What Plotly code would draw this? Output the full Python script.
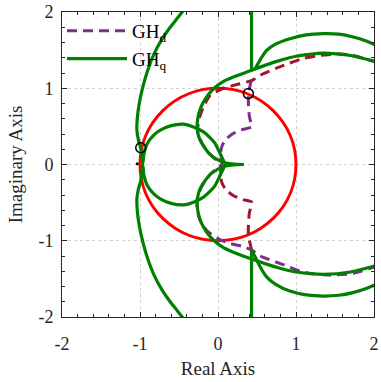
import plotly.graph_objects as go

# ---------------- data ----------------
# GH_q (green) pieces
gq_vert_up_x = [0.43, 0.43]
gq_vert_up_y = [2.05, 1.24]
gq_arc1_up_x = [0.43, 0.474, 0.55, 0.624, 0.75, 0.923, 1.13, 1.35, 1.55, 1.735, 1.9, 2.05]
gq_arc1_up_y = [1.24, 1.257, 1.39, 1.497, 1.585, 1.65, 1.70, 1.717, 1.71, 1.673, 1.62, 1.555]
gq_arc2_up_x = [2.05, 1.7, 1.35, 1.0, 0.795, 0.6, 0.432, 0.196, 0.07, -0.06, -0.15, -0.22, -0.26, -0.265, -0.23, -0.17, -0.1, 0.0, 0.1, 0.2, 0.33]
gq_arc2_up_y = [1.34, 1.43, 1.46, 1.42, 1.366, 1.3, 1.235, 1.148, 1.09, 0.99, 0.88, 0.75, 0.6, 0.45, 0.32, 0.22, 0.13, 0.06, 0.02, 0.005, 0.0]
gq_left_up_x = [-0.42, -0.52, -0.62, -0.72, -0.82, -0.90, -0.96, -1.01, -1.035, -1.04, -1.02, -0.99, -0.975, -0.965,
                -0.95, -0.91, -0.83, -0.74, -0.6, -0.44, -0.33, -0.19, -0.1, -0.04, 0.01, 0.047, 0.08, 0.1]
gq_left_up_y = [2.05, 1.92, 1.79, 1.64, 1.45, 1.24, 1.03, 0.8, 0.6, 0.45, 0.32, 0.21, 0.1, 0.0,
                0.14, 0.27, 0.38, 0.45, 0.51, 0.53, 0.5, 0.43, 0.35, 0.28, 0.18, 0.1, 0.03, 0.0]

gq_vert_lo_x = [0.43, 0.43]
gq_vert_lo_y = [-2.05, -1.12]
gq_arc1_lo_x = [0.43, 0.47, 0.54, 0.62, 0.75, 0.92, 1.13, 1.35, 1.55, 1.73, 1.9, 2.05]
gq_arc1_lo_y = [-1.12, -1.2, -1.34, -1.47, -1.58, -1.66, -1.71, -1.725, -1.715, -1.68, -1.625, -1.56]
gq_arc2_lo_x = [2.05, 1.7, 1.35, 1.0, 0.795, 0.6, 0.432, 0.196, 0.07, -0.06, -0.15, -0.22, -0.26, -0.265, -0.23, -0.17, -0.1, 0.0, 0.1, 0.2, 0.33]
gq_arc2_lo_y = [-1.32, -1.41, -1.44, -1.41, -1.36, -1.3, -1.24, -1.15, -1.09, -0.99, -0.88, -0.75, -0.6, -0.45, -0.32, -0.22, -0.13, -0.06, -0.02, -0.005, 0.0]
gq_left_lo_x = [-0.42, -0.52, -0.62, -0.72, -0.82, -0.90, -0.96, -1.01, -1.035, -1.04, -1.02, -0.99, -0.975, -0.965,
                -0.95, -0.91, -0.83, -0.74, -0.6, -0.44, -0.33, -0.19, -0.1, -0.04, 0.01, 0.047, 0.08, 0.1]
gq_left_lo_y = [-2.05, -1.92, -1.79, -1.64, -1.45, -1.24, -1.03, -0.8, -0.6, -0.45, -0.32, -0.21, -0.1, 0.0,
                -0.14, -0.27, -0.38, -0.45, -0.51, -0.53, -0.5, -0.43, -0.35, -0.28, -0.18, -0.1, -0.03, 0.0]

# GH_d (purple dashed) and its mirror (dark red dashed)
gd_x = [2.05, 1.73, 1.39, 1.09, 0.8, 0.54, 0.43, 0.3, 0.13, 0.0, -0.14, -0.23, -0.27, -0.26, -0.2, -0.1, 0.0, 0.05,
        0.03, 0.05, 0.1, 0.2, 0.32, 0.43, 0.42, 0.40, 0.39, 0.39, 0.41, 0.43]
gd_y = [-1.33, -1.43, -1.45, -1.41, -1.3, -1.2, -1.12, -1.07, -1.03, -0.97, -0.87, -0.73, -0.57, -0.42, -0.27, -0.13, -0.04, 0.0,
        0.12, 0.24, 0.33, 0.41, 0.46, 0.49, 0.55, 0.65, 0.8, 0.93, 1.03, 1.12]
gdm_x = [2.05, 1.73, 1.56, 1.31, 1.09, 0.84, 0.58, 0.43, 0.28, 0.068, -0.10, -0.19, -0.25, -0.26, -0.2, -0.1, 0.0, 0.05,
         0.03, 0.05, 0.1, 0.2, 0.32, 0.43, 0.42, 0.40, 0.39, 0.39, 0.41, 0.43]
gdm_y = [1.34, 1.43, 1.45, 1.43, 1.39, 1.30, 1.19, 1.1, 1.06, 1.0, 0.91, 0.75, 0.57, 0.42, 0.27, 0.13, 0.04, 0.0,
         -0.12, -0.24, -0.33, -0.41, -0.46, -0.49, -0.55, -0.65, -0.8, -0.93, -1.03, -1.12]

# markers
mark_x = [-0.99, 0.389]
mark_y = [0.22, 0.93]
crit_x = [-1.035]
crit_y = [0.01]

# unit circle bounds
circ = [-1, -1, 1, 1]

tick_vals = [-2, -1, 0, 1, 2]
tick_text = ["-2", "-1", "0", "1", "2"]

GREEN = "#008000"
PURPLE = "#7e2f8e"
DRED = "#a2142f"
FONT = "Liberation Serif"

fig = go.Figure()

dash = "10px,6px"
fig.add_trace(go.Scatter(x=gdm_x, y=gdm_y, mode="lines",
                         line=dict(color=DRED, width=3, dash=dash, shape="spline", smoothing=0.5), showlegend=False))
fig.add_trace(go.Scatter(x=gd_x, y=gd_y, mode="lines",
                         line=dict(color=PURPLE, width=3, dash=dash, shape="spline", smoothing=0.5),
                         name="GH<sub>d</sub>", legendrank=1))

pieces = [(gq_vert_up_x, gq_vert_up_y), (gq_arc1_up_x, gq_arc1_up_y), (gq_arc2_up_x, gq_arc2_up_y),
          (gq_left_up_x, gq_left_up_y), (gq_vert_lo_x, gq_vert_lo_y), (gq_arc1_lo_x, gq_arc1_lo_y),
          (gq_arc2_lo_x, gq_arc2_lo_y), (gq_left_lo_x, gq_left_lo_y)]
for i, (px, py) in enumerate(pieces):
    fig.add_trace(go.Scatter(x=px, y=py, mode="lines", line=dict(color=GREEN, width=3.2, shape="spline", smoothing=0.6),
                             name="GH<sub>q</sub>", showlegend=(i == 0), legendrank=2))

fig.add_trace(go.Scatter(x=mark_x, y=mark_y, mode="markers",
                         marker=dict(symbol="circle-open", size=10, color="black", line=dict(width=1.5)), showlegend=False))
fig.add_trace(go.Scatter(x=crit_x, y=crit_y, mode="markers",
                         marker=dict(symbol="circle", size=3, color="black"), showlegend=False))

fig.add_shape(type="circle", xref="x", yref="y", x0=circ[0], y0=circ[1], x1=circ[2], y1=circ[3],
              line=dict(color="#ff0000", width=3), layer="between")

axis_common = dict(
    range=[-2, 2], tickmode="array", tickvals=tick_vals, ticktext=tick_text, automargin=False,
    ticks="inside", ticklen=5, tickcolor="#262626", showline=True, linecolor="#262626", linewidth=1,
    mirror="ticks", showgrid=True, gridcolor="#d0d0d0", griddash="dot", gridwidth=1, zeroline=False,
    tickfont=dict(family=FONT, size=18, color="#262626"),
    minor=dict(tickmode="linear", tick0=0, dtick=0.2, ticks="inside", ticklen=3, tickcolor="#262626", showgrid=False),
)
fig.update_xaxes(**axis_common, ticklabelstandoff=10,
                 title=dict(text="Real Axis", font=dict(family=FONT, size=19, color="#262626"), standoff=9))
fig.update_yaxes(**axis_common, ticklabelstandoff=4,
                 title=dict(text="Imaginary Axis", font=dict(family=FONT, size=19, color="#262626"), standoff=10))

fig.update_layout(
    width=381, height=382,
    margin=dict(l=62, r=7, t=12, b=65),
    paper_bgcolor="white", plot_bgcolor="white",
    showlegend=True,
    legend=dict(x=0.0, y=1.0, xanchor="left", yanchor="top", bgcolor="rgba(0,0,0,0)",
                font=dict(family=FONT, size=19, color="black"), itemwidth=60, tracegroupgap=0,
                traceorder="normal"),
)

fig.write_html("out.html")
